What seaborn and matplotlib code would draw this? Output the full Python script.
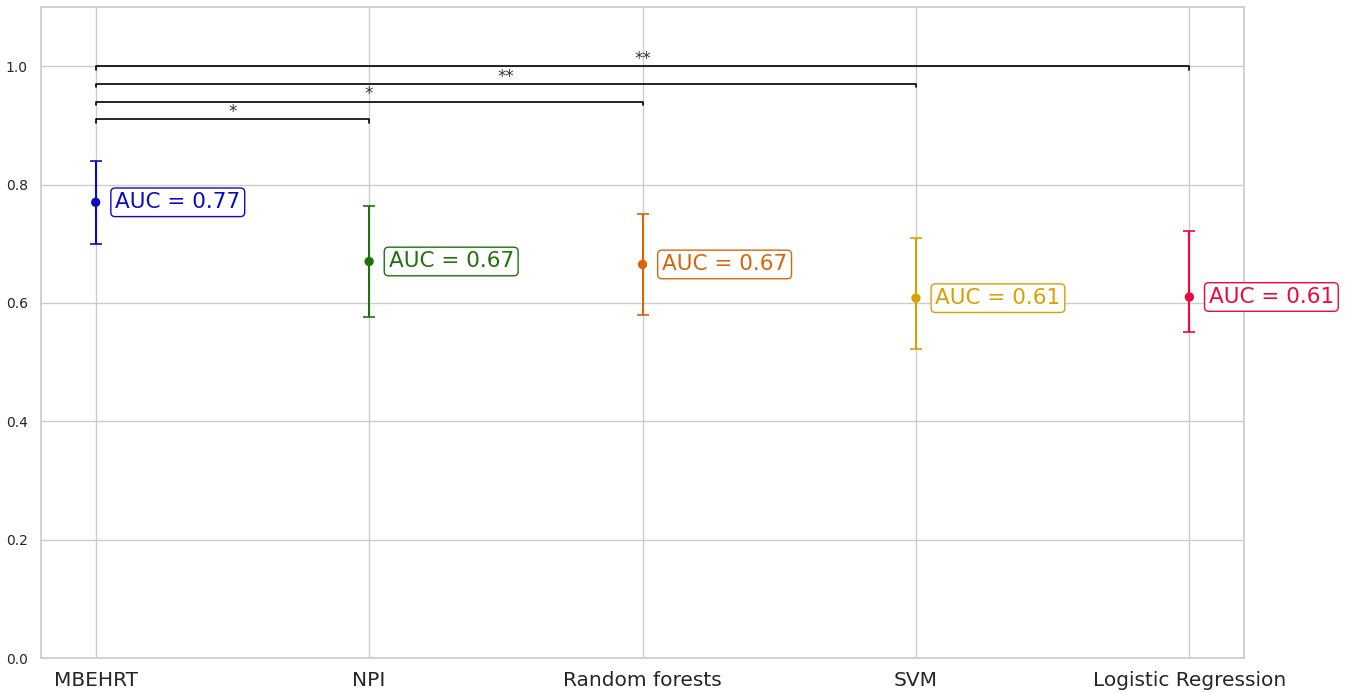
import matplotlib
matplotlib.use("Agg")
import matplotlib.pyplot as plt
import seaborn as sns
import pandas as pd

sns.set_theme(style="whitegrid")

models = ["MBEHRT", "NPI", "Random forests", "SVM", "Logistic Regression"]
auc = [0.770, 0.670, 0.665, 0.608, 0.610]
ci_low = [0.700, 0.576, 0.579, 0.522, 0.551]
ci_high = [0.839, 0.764, 0.751, 0.709, 0.722]
colors = ["#0b0bc4", "#1f720b", "#d9640b", "#daa000", "#f0073e"]

# significance brackets vs MBEHRT
pairs = [(0, 1), (0, 2), (0, 3), (0, 4)]
bracket_y = [0.91, 0.94, 0.97, 1.00]
stars = ["*", "*", "**", "**"]

df = pd.DataFrame({"model": models, "auc": auc})

fig = plt.figure(figsize=(13.49, 6.93), dpi=100)
ax = fig.add_axes([0.0304, 0.0505, 0.8918, 0.9394])

sns.scatterplot(data=df, x="model", y="auc", hue="model", palette=colors,
                s=45, legend=False, ax=ax, zorder=3, edgecolor="none")

for i, (m, lo, hi) in enumerate(zip(auc, ci_low, ci_high)):
    ax.errorbar(i, m, yerr=[[m - lo], [hi - m]], fmt="none", ecolor=colors[i],
                elinewidth=1.5, capsize=4.5, capthick=1.2, zorder=2)
    ax.annotate(f"AUC = {m:.2f}", (i, m), xytext=(14, 0), textcoords="offset points",
                va="center", ha="left", fontsize=15.5, color=colors[i],
                bbox=dict(boxstyle="round,pad=0.2", fc="white", ec=colors[i], lw=1))

for (a, b), y, s in zip(pairs, bracket_y, stars):
    ax.plot([a, a, b, b], [y - 0.006, y, y, y - 0.006], color="black", lw=1.2)
    ax.text((a + b) / 2, y - 0.003, s, ha="center", va="bottom", fontsize=12,
            color="#333333")

ax.set_xlim(-0.2, 4.2)
ax.set_ylim(0, 1.1)
ax.set_yticks([0.0, 0.2, 0.4, 0.6, 0.8, 1.0])
ax.set_xlabel("")
ax.set_ylabel("")
ax.tick_params(axis="x", labelsize=14.5)
ax.tick_params(axis="y", labelsize=10)

fig.savefig("out.png", dpi=100)
